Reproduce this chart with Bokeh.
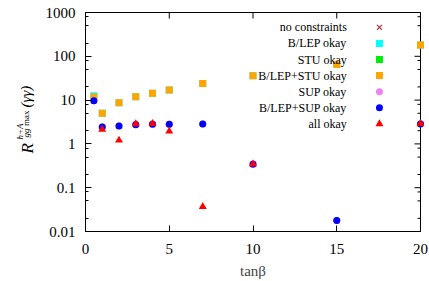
import math
from bokeh.plotting import figure
from bokeh.models import FixedTicker, Label, CustomJSTickFormatter
from bokeh.core.properties import value
from bokeh.embed import file_html
from bokeh.resources import INLINE

# ---------------- data ----------------
tanb = [0.5, 1, 2, 3, 4, 5, 7, 10, 15, 20]

no_constraints = [11.7, 5.0, 8.7, 12.0, 14.3, 17.0, 24.0, 36.0, 65.0, 180.0]
blep_okay = [12.6, 5.0, 8.7, 12.0, 14.3, 17.0, 24.0, 36.0, 65.0, 180.0]
stu_okay_x = []
stu_okay = []
blep_stu_okay = [11.7, 5.0, 8.7, 12.0, 14.3, 17.0, 24.0, 36.0, 65.0, 180.0]
sup_okay = [9.7, 2.43, 2.57, 2.8, 2.85, 2.8, 2.85, 0.35, 0.0178, 2.9]
blep_sup_okay = [9.7, 2.43, 2.57, 2.75, 2.8, 2.8, 2.85, 0.343, 0.0178, 2.85]
all_x = [1, 2, 3, 4, 5, 7, 10, 20]
all_okay = [2.15, 1.21, 2.85, 2.9, 1.94, 0.037, 0.345, 2.9]

legend_names = ["no constraints", "B/LEP okay", "STU okay", "B/LEP+STU okay",
                "SUP okay", "B/LEP+SUP okay", "all okay"]

x_ticks = [0, 5, 10, 15, 20]
y_ticks = [0.01, 0.1, 1, 10, 100, 1000]
y_minor = [d * m for d in [0.01, 0.1, 1, 10, 100] for m in (2, 5, 8)]

X_MIN, X_MAX = 0, 20
Y_MIN, Y_MAX = 0.01, 1000

# ---------------- layout (pixels) ----------------
W, H = 429, 281
BOX_L, BOX_R, BOX_T, BOX_B = 85.0, 420.0, 12.0, 231.0
BOX_W = BOX_R - BOX_L
BOX_H = BOX_B - BOX_T
PX = (X_MAX - X_MIN) / BOX_W                      # data units per pixel
LDEC = math.log10(Y_MAX / Y_MIN)
DPX = LDEC / BOX_H                                # decades per pixel
x_lo = X_MIN - BOX_L * PX
x_hi = X_MAX + (W - BOX_R) * PX
y_lo = Y_MIN * 10 ** (-(H - BOX_B) * DPX)
y_hi = Y_MAX * 10 ** (BOX_T * DPX)

# ---------------- style ----------------
SERIF = "Liberation Serif"
C_CROSS = "#B03030"
C_CYAN = "#00FFFF"
C_GREEN = "#00EE00"
C_ORANGE = "#FFA500"
C_PINK = "#EE82EE"
C_BLUE = "#0000FF"
C_RED = "#FF0000"
MAJ = 6.0
MIN = 3.0

p = figure(width=W, height=H, x_range=(x_lo, x_hi), y_range=(y_lo, y_hi),
           y_axis_type="log", output_backend="svg", toolbar_location=None,
           min_border_left=0, min_border_right=0, min_border_top=0,
           min_border_bottom=0)
p.xgrid.visible = False
p.ygrid.visible = False
p.outline_line_color = None

fmt = CustomJSTickFormatter(code="return tick.toString();")

def style_axis(ax):
    ax.axis_line_color = "black"
    ax.axis_line_width = 1
    ax.major_tick_in = int(MAJ)
    ax.major_tick_out = 0
    ax.minor_tick_in = int(MIN)
    ax.minor_tick_out = 0
    ax.major_tick_line_color = "black"
    ax.minor_tick_line_color = "black"
    ax.major_label_text_font = SERIF
    ax.major_label_text_font_size = "15px"
    ax.major_label_text_color = "black"

xa = p.xaxis[0]
ya = p.yaxis[0]
xa.fixed_location = Y_MIN
ya.fixed_location = X_MIN
xa.bounds = (X_MIN, X_MAX)
ya.bounds = (Y_MIN, Y_MAX)
xa.ticker = FixedTicker(ticks=x_ticks)
ya.ticker = FixedTicker(ticks=y_ticks, minor_ticks=y_minor)
ya.formatter = fmt
style_axis(xa)
style_axis(ya)
xa.minor_tick_line_color = None
xa.major_label_standoff = 12
ya.major_label_standoff = 10
xa.axis_label = "tanβ"
xa.axis_label_text_font = SERIF
xa.axis_label_text_font_size = "15px"
xa.axis_label_text_font_style = "normal"
xa.axis_label_standoff = 6

# frame box (drawn from the range limits)
p.segment(x0=[X_MIN, X_MIN, X_MIN, X_MAX], y0=[Y_MIN, Y_MAX, Y_MIN, Y_MIN],
          x1=[X_MAX, X_MAX, X_MIN, X_MAX], y1=[Y_MIN, Y_MAX, Y_MAX, Y_MAX],
          line_color="black", line_width=1)

# mirrored ticks (right and top), derived from the tick lists
dx_maj = MAJ * PX
dx_min = MIN * PX
fy_maj = 10 ** (MAJ * DPX)
p.segment(x0=[X_MAX] * len(y_ticks), y0=y_ticks, x1=[X_MAX - dx_maj] * len(y_ticks),
          y1=y_ticks, line_color="black", line_width=1)
p.segment(x0=[X_MAX] * len(y_minor), y0=y_minor, x1=[X_MAX - dx_min] * len(y_minor),
          y1=y_minor, line_color="black", line_width=1)
p.segment(x0=x_ticks, y0=[Y_MAX] * len(x_ticks), x1=x_ticks,
          y1=[Y_MAX / fy_maj] * len(x_ticks), line_color="black", line_width=1)

# ---------------- points ----------------
p.scatter(tanb, no_constraints, marker="x", size=7, line_color=C_CROSS, line_width=1.2)
p.scatter(tanb, blep_okay, marker="square", size=7, fill_color=C_CYAN, line_color=None)
p.scatter(stu_okay_x, stu_okay, marker="square", size=7, fill_color=C_GREEN, line_color=None)
p.scatter(tanb, blep_stu_okay, marker="square", size=7, fill_color=C_ORANGE, line_color=None)
p.scatter(tanb, sup_okay, marker="circle", size=7, fill_color=C_PINK, line_color=None)
p.scatter(tanb, blep_sup_okay, marker="circle", size=7, fill_color=C_BLUE, line_color=None)
p.scatter(all_x, all_okay, marker="triangle", size=8, fill_color=C_RED, line_color=None)

# ---------------- legend (label left, symbol right) ----------------
leg_x_text = 15.6
leg_x_sym = 17.55
leg_y0 = 2.66     # log10 of first row
leg_step = 0.367  # decades per row
leg_y = [10 ** (leg_y0 - i * leg_step) for i in range(len(legend_names))]
p.text(x=[leg_x_text] * len(legend_names), y=leg_y, text=legend_names,
       text_align="right", text_baseline="middle", text_font=value(SERIF),
       text_font_size="12px", text_color="black")
markers = ["x", "square", "square", "square", "circle", "circle", "triangle"]
colors = [C_CROSS, C_CYAN, C_GREEN, C_ORANGE, C_PINK, C_BLUE, C_RED]
for i, (m, c) in enumerate(zip(markers, colors)):
    if m == "x":
        p.scatter([leg_x_sym], [leg_y[i]], marker=m, size=7, line_color=c, line_width=1.2)
    else:
        p.scatter([leg_x_sym], [leg_y[i]], marker=m, size=8 if m == "triangle" else 7,
                  fill_color=c, line_color=None)

# ---------------- y axis title, built from pieces ----------------
def lab(text, dx_px, dy_px, size, style):
    # dx_px: pixels left(-) of the box's left edge; dy_px: pixels above box bottom
    p.add_layout(Label(x=X_MIN + dx_px * PX, y=Y_MIN * 10 ** (dy_px * DPX),
                       x_units="data", y_units="data", text=text,
                       angle=math.pi / 2, text_font=SERIF, text_font_size=size,
                       text_font_style=style, text_align="left",
                       text_baseline="alphabetic", text_color="black"))

lab("R", -58, 78, "17px", "italic")
lab("h+A", -66, 92, "9px", "italic")
lab("gg", -59.5, 94, "9px", "italic")
lab("max", -59.5, 105.5, "9px", "normal")
lab("(γγ)", -60, 124, "15px", "italic")

open("out.html", "w").write(file_html(p, INLINE))
